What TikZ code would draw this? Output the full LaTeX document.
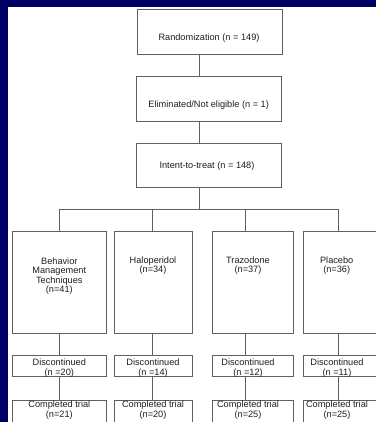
\documentclass[tikz,border=0pt]{standalone}
\usepackage{fontspec}
\setmainfont{Liberation Sans}
\definecolor{navy}{RGB}{0,0,100}
\definecolor{rule}{RGB}{95,95,95}
\definecolor{ink}{RGB}{30,30,30}
\tikzset{
  box/.style={draw=rule, line width=0.7pt, inner sep=0pt, fill=none},
  label text/.style={text=ink, inner sep=0pt, align=center,
    font=\fontsize{9.2}{9.4}\selectfont},
  wide lines/.style={font=\fontsize{9.2}{10.2}\selectfont},
  link/.style={draw=rule, line width=0.7pt},
}
\begin{document}
\begin{tikzpicture}[x=1pt,y=-1pt]
  % page and backdrop
  \useasboundingbox (0,0) rectangle (376,422);
  \clip (0,0) rectangle (376,422);
  \fill[navy] (0,0) rectangle (376,422);
  \fill[white] (8,7) rectangle (380,430);

  % spine and column positions of the connectors
  \coordinate (spine) at (199.5,0);
  \coordinate (bar) at (199.5,209);
  \coordinate (c1) at (59.3,0);
  \coordinate (c2) at (152.3,0);
  \coordinate (c3) at (245,0);
  \coordinate (c4) at (338.3,0);

  % upper stages
  \node[box, minimum width=145pt, minimum height=44.7pt] (rand) at (209.5,31.65) {};
  \node[box, minimum width=145pt, minimum height=45pt] (elig) at (208.5,98.5) {};
  \node[box, minimum width=145pt, minimum height=44pt] (itt) at (208.5,165) {};

  % treatment arms
  \node[box, minimum width=93.3pt, minimum height=102pt] (arm1) at (59.35,282) {};
  \node[box, minimum width=78.4pt, minimum height=102pt] (arm2) at (153.5,282) {};
  \node[box, minimum width=81pt, minimum height=102pt] (arm3) at (252.8,282) {};
  \node[box, minimum width=87pt, minimum height=102pt] (arm4) at (346.5,282) {};

  % discontinued
  \node[box, minimum width=93.3pt, minimum height=21pt] (dis1) at (59.35,365.5) {};
  \node[box, minimum width=78.4pt, minimum height=21pt] (dis2) at (153.5,365.5) {};
  \node[box, minimum width=81pt, minimum height=21pt] (dis3) at (252.8,365.5) {};
  \node[box, minimum width=87pt, minimum height=21pt] (dis4) at (346.5,365.5) {};

  % completed
  \node[box, minimum width=93.3pt, minimum height=40pt] (com1) at (59.35,420.5) {};
  \node[box, minimum width=78.4pt, minimum height=40pt] (com2) at (153.5,420.5) {};
  \node[box, minimum width=81pt, minimum height=40pt] (com3) at (252.8,420.5) {};
  \node[box, minimum width=87pt, minimum height=40pt] (com4) at (346.5,420.5) {};

  % connectors down the spine
  \draw[link] (rand.south -| spine) -- (elig.north -| spine);
  \draw[link] (elig.south -| spine) -- (itt.north -| spine);
  \draw[link] (itt.south -| spine) -- (bar);
  \draw[link] (bar -| c1) -- (bar -| c4);

  % connectors into each arm and down its column
  \foreach \i in {1,2,3,4}{
    \draw[link] (bar -| c\i) -- (arm\i.north -| c\i);
    \draw[link] (arm\i.south -| c\i) -- (dis\i.north -| c\i);
    \draw[link] (dis\i.south -| c\i) -- (com\i.north -| c\i);
  }

  % texts
  \node[label text] (randT) at (209,37.7) {Randomization (n = 149)};
  \node[label text] (eligT) at (208.7,105.3) {Eliminated/Not eligible (n = 1)};
  \node[label text] (ittT) at (207,166) {Intent-to-treat (n = 148)};

  \node[label text] (arm1T) at (59.3,276) {Behavior\\Management\\Techniques\\(n=41)};
  \node[label text] (arm2T) at (153,265.5) {Haloperidol\\(n=34)};
  \node[label text] (arm3T) at (248,265.5) {Trazodone\\(n=37)};
  \node[label text] (arm4T) at (336.7,265.5) {Placebo\\(n=36)};

  \node[label text, wide lines] (dis1T) at (59.3,367.8) {Discontinued\\(n =20)};
  \node[label text, wide lines] (dis2T) at (153,367.8) {Discontinued\\(n =14)};
  \node[label text, wide lines] (dis3T) at (248,367.8) {Discontinued\\(n =12)};
  \node[label text, wide lines] (dis4T) at (337,367.8) {Discontinued\\(n =11)};

  \node[label text] (com1T) at (59.3,410.3) {Completed trial\\(n=21)};
  \node[label text] (com2T) at (153,410.3) {Completed trial\\(n=20)};
  \node[label text] (com3T) at (248,410.3) {Completed trial\\(n=25)};
  \node[label text] (com4T) at (337,410.3) {Completed trial\\(n=25)};
\end{tikzpicture}
\end{document}
